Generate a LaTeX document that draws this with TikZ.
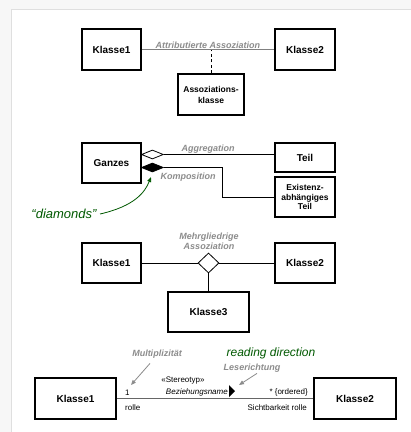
\documentclass[tikz,border=0pt]{standalone}
\usepackage{fontspec}
\setmainfont{Liberation Sans}
\usepackage{tikz}
\usetikzlibrary{positioning}
\usetikzlibrary{shapes.geometric,arrows.meta}

\begin{document}
\begin{tikzpicture}[
    x=1pt, y=-1pt,
    >={Triangle[length=5pt,width=4pt]},
    klasse/.style={rectangle, draw, line width=1.1pt, inner sep=0pt, minimum width=59pt, minimum height=41pt, align=center, font=\fontsize{10}{11}\selectfont\bfseries},
    hinweis/.style={text=gray!90, inner sep=1pt, align=center, font=\fontsize{9}{10.5}\selectfont\bfseries\itshape},
    klein/.style={inner sep=1pt, font=\fontsize{8}{9}\selectfont},
    raute/.style={diamond, draw, line width=0.8pt, inner sep=0pt, fill=white},
    notiz/.style={text=green!35!black, font=\fontsize{13}{14}\selectfont\itshape},
    linie/.style={line width=0.8pt}
]

\useasboundingbox (0,0) rectangle (411,432);
\fill[gray!6] (0,0) rectangle (411,432);
\fill[white, draw=gray!25, line width=1pt] (11,9) rectangle (414,435);

% attributierte Assoziation
\node (k1a) [klasse] at (111.5,49.5) {Klasse1};
\node (k2a) [klasse, minimum width=60pt] at (305,49.5) {Klasse2};
\node (assoz) [klasse, minimum width=66pt, font=\fontsize{8.5}{11}\selectfont\bfseries] at (211,94.5) {Assoziations-\\klasse};

\draw[linie, gray] (k1a) -- node[hinweis, above]{Attributierte Assoziation} (k2a);
\draw[linie, dash pattern=on 3pt off 2.5pt] (assoz.north) -- (assoz.north |- k1a.east);

% Aggregation und Komposition
\node (ganzes) [klasse, minimum height=40pt] at (111.5,163) {Ganzes};
\node (teil) [klasse, minimum width=60pt, minimum height=29pt] at (305,157.5) {Teil};
\node (existenz) [klasse, minimum width=60pt, minimum height=40pt, font=\fontsize{8.5}{9.5}\selectfont\bfseries] at (305,197) {Existenz-\\abhängiges\\Teil};

\node (agg) [raute, minimum width=22pt, minimum height=9pt, anchor=west] at (141,154.5) {};
\node (komp) [raute, fill=black, minimum width=22pt, minimum height=9pt, anchor=west] at (141,167.5) {};
\coordinate (knick) at (222,167.5);

\draw[linie] (agg.east) -- node[hinweis, above, pos=0.4]{Aggregation} (agg.east -| teil.west);
\draw[linie] (komp.east) -- (knick) |- (existenz.west);
\node (kompl) [hinweis] at (188,177) {Komposition};

\node (diam) [notiz] at (64,214) {``diamonds''};
\draw[->, green!35!black, line width=0.8pt] (diam.east) .. controls (135,206) and (145,192) .. (151,177);

% mehrgliedrige Assoziation
\node (k1b) [klasse, minimum height=40pt] at (111.5,263) {Klasse1};
\node (k2b) [klasse, minimum width=60pt, minimum height=40pt] at (305,263) {Klasse2};
\node (mehr) [raute, minimum width=21pt, minimum height=20pt] at (208.5,263) {};
\node (k3) [klasse, minimum width=81pt, minimum height=40pt] at (208.5,312) {Klasse3};
\node (mehrl) [hinweis] at (209,241.5) {Mehrgliedrige\\Assoziation};

\draw[linie] (k1b) -- (mehr);
\draw[linie] (mehr) -- (k2b);
\draw[linie] (mehr) -- (k3);

% Beziehung mit Rollen
\node (k1c) [klasse, minimum width=81pt] at (75.5,398.5) {Klasse1};
\node (k2c) [klasse, minimum width=82pt] at (355,398.5) {Klasse2};
\draw[line width=1pt, gray!80!black] (k1c) -- (k2c);

\node (eins) [klein, anchor=west] at (124,393) {1};
\node (rolle) [klein, anchor=west] at (124,408) {rolle};
\node (ordered) [klein, anchor=east] at (309,392) {* \{ordered\}};
\node (sicht) [klein, anchor=east] at (308,408) {Sichtbarkeit rolle};
\node (stereo) [klein] at (183,381) {«Stereotyp»};
\node (bez) [klein, anchor=east, font=\fontsize{8}{9}\selectfont\itshape] at (229,392) {Beziehungsname};
\fill (229,385) -- (235,391) -- (229,397) -- cycle;

\node (multl) [hinweis] at (157,354) {Multiplizität};
\coordinate (multz) at (131,385);
\draw[->, gray!90, line width=0.8pt] ([xshift=-7pt,yshift=-4pt]multl.south) -- (multz);

\node (lesel) [hinweis] at (252,368) {Leserichtung};
\coordinate (lesez) at (239,385);
\draw[->, gray!90, line width=0.8pt] ([xshift=5pt]lesel.south) -- (lesez);

\node (lesen) [notiz, font=\fontsize{12}{13}\selectfont\itshape] at (271,353) {reading direction};

\end{tikzpicture}
\end{document}
